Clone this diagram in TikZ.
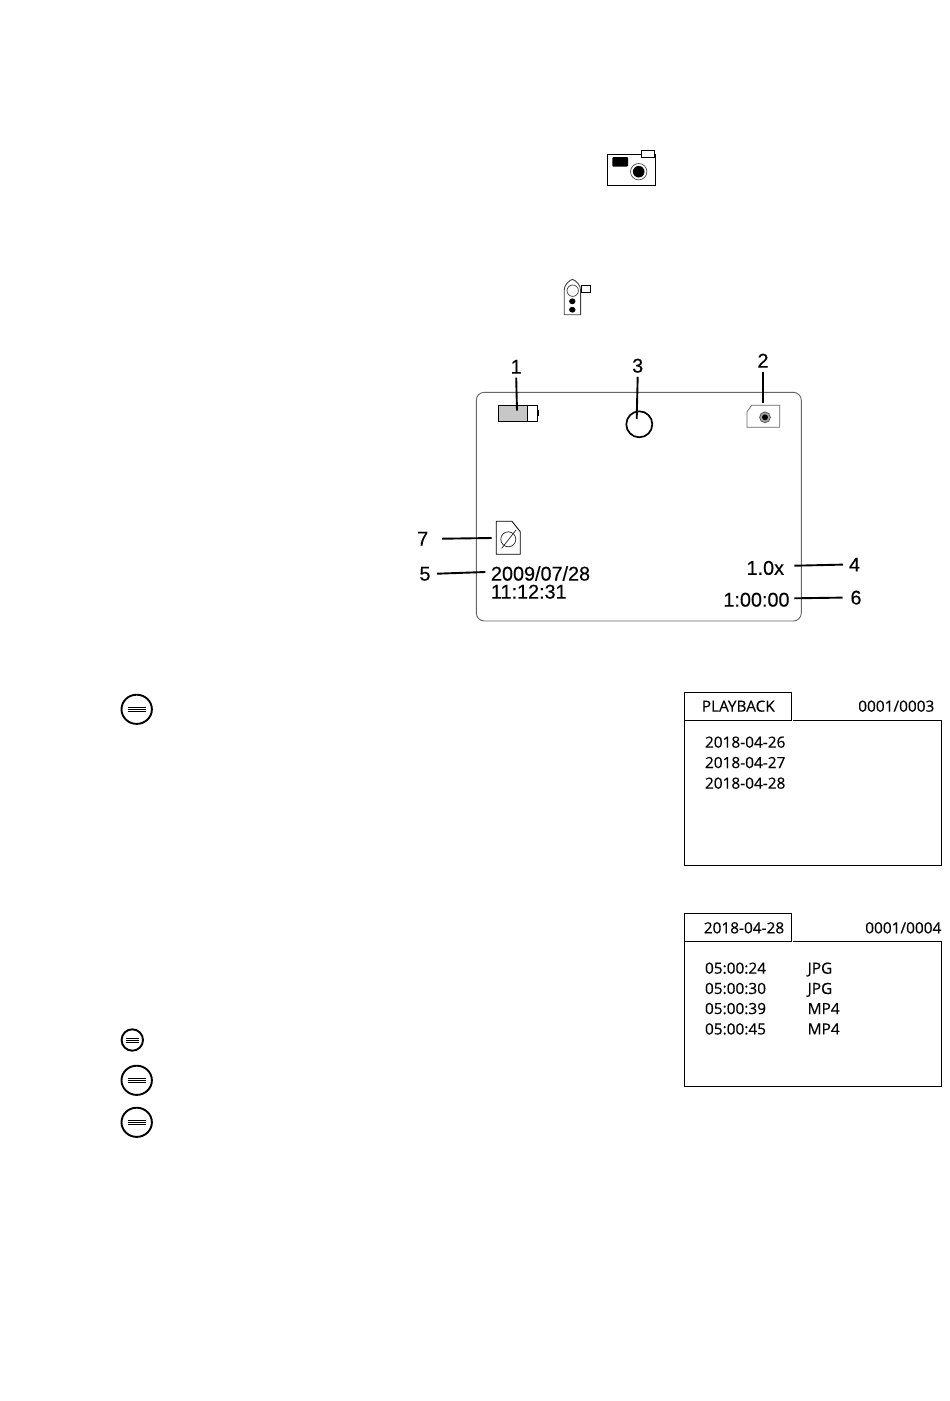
\documentclass[tikz,border=0pt]{standalone}
\usepackage{fontspec}
\setmainfont[FakeBold=0.25]{Liberation Sans}
\newfontfamily\panelfont[FakeBold=0.3]{Open Sans}
\tikzset{
  lbl/.style={inner sep=0pt,outer sep=0pt,text depth=0pt,text height=13.7pt,font=\fontsize{19.8}{20}\selectfont},
  num/.style={lbl},
  ptxt/.style={inner sep=0pt,outer sep=0pt,text depth=0pt,text height=10.7pt,font=\panelfont\fontsize{15.4}{16}\selectfont},
  callout/.style={line width=1.9pt,black},
  thin box/.style={line width=1pt,black},
  grey box/.style={line width=0.9pt,black!60},
  menu button/.style={line width=1.9pt,black},
  menu bar/.style={line width=0.8pt,black}
}
\newcommand{\menubtn}[6]{%
  \draw[menu button] (#1,#2) ellipse [x radius=#3,y radius=#4];
  \draw[menu bar] (#1-#5,#2-#6) -- (#1+#5,#2-#6) (#1-#5,#2) -- (#1+#5,#2) (#1-#5,#2+#6) -- (#1+#5,#2+#6);
}
\begin{document}
\begin{tikzpicture}[x=1pt,y=-1pt]
\useasboundingbox[fill=white] (0,0) rectangle (950,1401);

% camera icon
\draw[line width=1.2pt] (607.3,154.3) rectangle (655.7,185.3);
\draw[line width=1pt,fill=white] (641.3,150.3) rectangle (654.7,157.3);
\fill[rounded corners=1pt] (612.3,157) rectangle (628,166.7);
\draw[line width=0.7pt,black!70] (638.7,171.7) circle [radius=8.2];
\fill (638.7,171.7) circle [radius=5.8];

% video icon
\draw[line width=0.9pt,black!75] (564.2,314.7) -- (564.2,290) .. controls (564.2,285) and (569,280.5) .. (572.4,279.3) .. controls (576,280.5) and (580.6,285) .. (580.6,290) -- (580.6,314.7) -- cycle;
\draw[line width=0.7pt,black!75] (572.7,290.7) circle [radius=5.7];
\fill (572.3,301.3) ellipse [x radius=3.2,y radius=2.9];
\fill (572.3,309.7) ellipse [x radius=3.2,y radius=2.9];
\draw[line width=0.9pt] (581.3,285.3) rectangle (590.7,292.7);

% screen
\draw[grey box,rounded corners=8pt] (476.3,392.3) rectangle (801.3,621);

% battery
\fill[black!22] (498.3,405.3) rectangle (527.7,421.7);
\draw[line width=0.9pt] (498.3,405.3) rectangle (537,421.7);
\draw[line width=0.9pt] (527.7,405.3) -- (527.7,421.7);
\fill (537,410) rectangle (539,416.3);

% status circle
\draw[line width=1.7pt] (639.3,424.3) circle [radius=13];

% photo card icon
\draw[line width=0.7pt,black!60] (751.7,405.3) -- (779.7,405.3) -- (779.7,427.3) -- (747,427.3) -- (747,411.7) -- cycle;
\draw[line width=0.8pt,black!65,fill=black!35] (765,417.3) circle [radius=5.4];
\fill (765,417.3) circle [radius=3];

% empty card icon
\draw[line width=0.8pt] (512,521.3) -- (496.3,521.3) -- (496.3,554.3) -- (520.3,554.3) -- (520.3,531.7) -- cycle;
\draw[line width=0.7pt,black!85] (508.3,539.3) circle [radius=7.5];
\draw[line width=0.7pt,black!85] (501.7,548.3) -- (516,530);

% targets of callouts
\coordinate (t1) at (517,410.7);
\coordinate (t2) at (763,402.7);
\coordinate (t3) at (636.7,419);
\coordinate (t7) at (491.7,538);
\coordinate (t5) at (485.3,572);
\coordinate (t4) at (794.3,565.7);
\coordinate (t6) at (794.3,598.3);

% numbers
\node[num,outer sep=4pt] (n1) at (516.2,366.7) {1};
\node[num,outer sep=4.2pt] (n3) at (637.7,365.7) {3};
\node[num,outer sep=4.2pt] (n2) at (763,360.7) {2};
\node[num,outer sep=14pt] (n7) at (422.7,538.7) {7};
\node[num,outer sep=6.5pt] (n5) at (425,573.7) {5};
\node[num,outer sep=6pt] (n4) at (854.5,564.6) {4};
\node[num,outer sep=8pt] (n6) at (856,597.6) {6};

\draw[callout] (n1.south) -- (t1);
\draw[callout] (n3.south) -- (t3);
\draw[callout] (n2.south) -- (t2);
\draw[callout] (n7.east) -- (t7);
\draw[callout] (n5.east) -- (t5);
\draw[callout] (n4.west) -- (t4);
\draw[callout] (n6.west) -- (t6);

% screen text
\node[lbl,anchor=west] (date) at (491,573.7) {2009/07/28};
\node[lbl,anchor=west] (time) at (491,591.7) {11:12:31};
\node[lbl,anchor=east] (zoom) at (784,567.9) {1.0x};
\node[lbl,anchor=east] (rec) at (789.5,599.7) {1:00:00};

% panel 1
\draw[thin box] (684.7,720.3) -- (684.7,692.3) -- (791.7,692.3) -- (791.7,720.3) -- cycle;
\draw[thin box] (793,720.3) -- (941.3,720.3) -- (941.3,865.3) -- (684.7,865.3) -- (684.7,720.3);
\node[ptxt] (pb) at (738.3,706.3) {PLAYBACK};
\node[ptxt] (pc) at (896.3,706.3) {0001/0003};
\node[ptxt,anchor=west] (d1) at (705,742.3) {2018-04-26};
\node[ptxt,anchor=west] (d2) at (705,762.7) {2018-04-27};
\node[ptxt,anchor=west] (d3) at (705,783.3) {2018-04-28};

% panel 2
\draw[thin box] (684.7,941.3) -- (684.7,913.3) -- (791.7,913.3) -- (791.7,941.3) -- cycle;
\draw[thin box] (793,941.3) -- (941.3,941.3) -- (941.3,1086.3) -- (684.7,1086.3) -- (684.7,941.3);
\node[ptxt] (db) at (744,928) {2018-04-28};
\node[ptxt] (dc) at (903.3,928) {0001/0004};
\node[ptxt,anchor=west] (f1) at (705,968.3) {05:00:24};
\node[ptxt,anchor=west] (f2) at (705,988.6) {05:00:30};
\node[ptxt,anchor=west] (f3) at (705,1008.7) {05:00:39};
\node[ptxt,anchor=west] (f4) at (705,1029.1) {05:00:45};
\node[ptxt,anchor=west] (g1) at (807.7,968.3) {JPG};
\node[ptxt,anchor=west] (g2) at (807.7,988.6) {JPG};
\node[ptxt,anchor=west] (g3) at (807.7,1008.7) {MP4};
\node[ptxt,anchor=west] (g4) at (807.7,1029.1) {MP4};

% menu buttons
\menubtn{136.7}{709.3}{15.2}{14.6}{9}{2.3}
\menubtn{132.3}{1040}{10.7}{10.7}{6.6}{1.9}
\menubtn{136.7}{1080.3}{15.2}{14.6}{9}{2.3}
\menubtn{136.7}{1122.3}{15.2}{14.6}{9}{2.3}
\end{tikzpicture}
\end{document}
